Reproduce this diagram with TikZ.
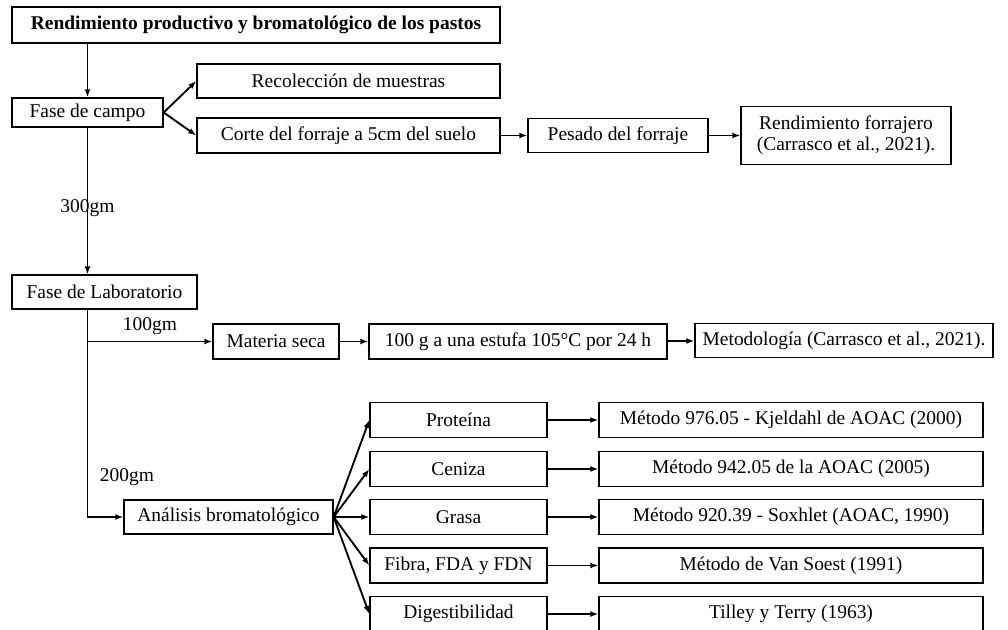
\documentclass[tikz,border=0pt]{standalone}
\usepackage{fontspec}
\setmainfont{Liberation Serif}
\usetikzlibrary{arrows.meta}

\tikzset{
  box/.style={draw, line width=1pt, inner sep=0pt, align=center},
  sz/.style 2 args={minimum width=#1*0.75pt, minimum height=#2*0.75pt},
  arr/.style={line width=1.4pt, -{Latex[length=6pt,width=4.5pt]}},
}

\begin{document}
\begin{tikzpicture}[x=0.75pt,y=-0.75pt,font=\fontsize{14.6}{16}\selectfont]

  \useasboundingbox (0,0) rectangle (1008,630);

  % Title
  \node[box, sz={488}{36}, font=\fontsize{14.6}{16}\selectfont\bfseries] (title) at (256,25) {Rendimiento productivo y bromatológico de los pastos};

  % Field phase
  \node[box, sz={151}{29}] (campo) at (87.5,112.5) {Fase de campo};
  \node[box, sz={303}{34}] (reco) at (348.5,81) {Recolección de muestras};
  \node[box, sz={303}{35}] (corte) at (348.5,135.5) {Corte del forraje a 5cm del suelo};
  \node[box, sz={180}{34}] (pesado) at (618,135.5) {Pesado del forraje};
  \node[box, sz={210}{58}] (rend) at (846,135.5) {Rendimiento forrajero\\(Carrasco et al., 2021).};

  \draw[arr] (title.south -| campo.north) -- (campo.north);
  \draw[arr] (campo.east) -- (reco.west);
  \draw[arr] (campo.east) -- (corte.west);
  \draw[arr] (corte) -- (pesado);
  \draw[arr] (pesado) -- (rend);

  % Lab phase
  \node[box, sz={185}{34}] (lab) at (104.5,292) {Fase de Laboratorio};
  \draw[arr] (campo.south) -- (campo.south |- lab.north) node[pos=0.55] {300gm};

  % Dry matter
  \node[box, sz={126}{35}] (mseca) at (276,341.5) {Materia seca};
  \node[box, sz={298}{35}] (estufa) at (518,341.5) {100 g a una estufa 105°C por 24 h};
  \node[box, sz={298}{34}] (metod) at (844,340.5) {Metodología (Carrasco et al., 2021).};

  \draw[arr] (campo.south |- mseca.west) -- (mseca.west) node[midway, above, yshift=1pt] {100gm};
  \draw[arr] (mseca) -- (estufa);
  \draw[arr] (estufa) -- (metod);

  % Bromatological analysis
  \node[box, sz={209}{34}] (anal) at (228.5,517) {Análisis bromatológico};
  \node (lbl200) at (127,477) {200gm};
  \draw[arr] (campo.south |- lab.south) |- (anal.west);

  \node[box, sz={177}{35}] (prot) at (458.5,420) {Proteína};
  \node[box, sz={177}{35}] (cen) at (458.5,469) {Ceniza};
  \node[box, sz={177}{35}] (gras) at (458.5,517) {Grasa};
  \node[box, sz={177}{35}] (fib) at (458.5,565.5) {Fibra, FDA y FDN};
  \node[box, sz={177}{35}] (dig) at (458.5,614) {Digestibilidad};

  \node[box, sz={384}{35}] (m1) at (791,420) {Método 976.05 - Kjeldahl de AOAC (2000)};
  \node[box, sz={384}{35}] (m2) at (791,469) {Método 942.05 de la AOAC (2005)};
  \node[box, sz={384}{35}] (m3) at (791,517) {Método 920.39 - Soxhlet (AOAC, 1990)};
  \node[box, sz={384}{35}] (m4) at (791,565.5) {Método de Van Soest (1991)};
  \node[box, sz={384}{35}] (m5) at (791,614) {Tilley y Terry (1963)};

  \foreach \a/\b in {prot/m1, cen/m2, gras/m3, fib/m4, dig/m5}{
    \draw[arr] (anal.east) -- (\a.west);
    \draw[arr] (\a) -- (\b);
  }

\end{tikzpicture}
\end{document}
